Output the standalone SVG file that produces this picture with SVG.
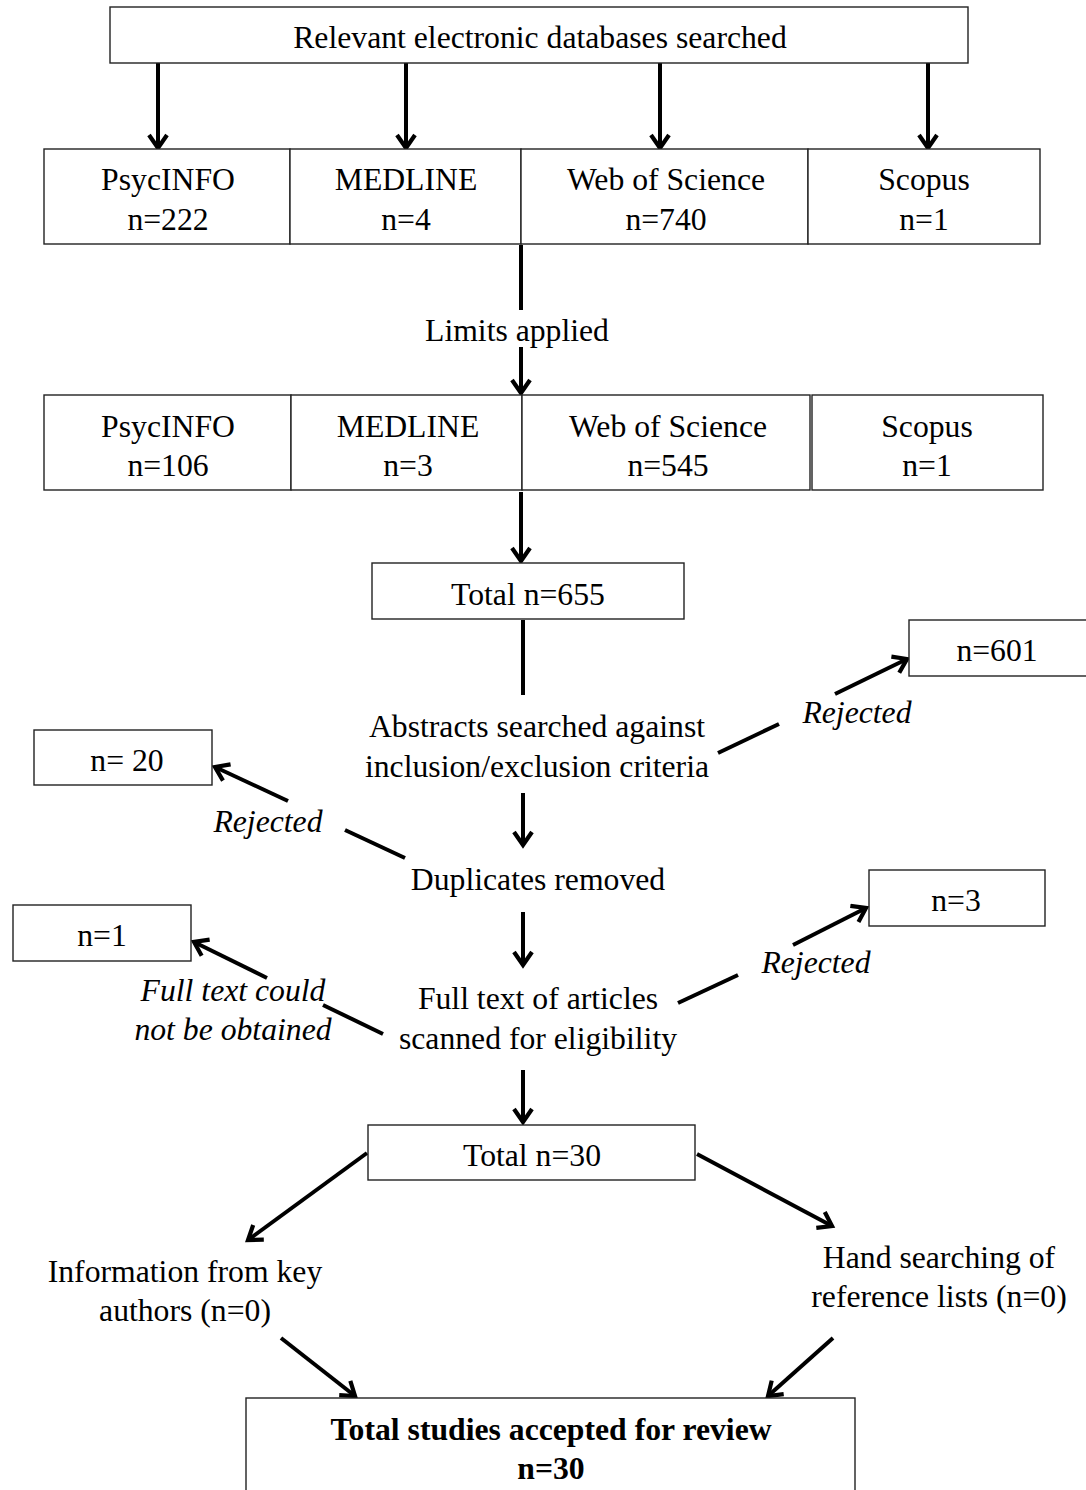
<svg xmlns="http://www.w3.org/2000/svg" width="1086" height="1490" viewBox="0 0 1086 1490">
<defs>
<style>
.box{fill:#fff;stroke:#222;stroke-width:1.4}
.t{font-family:"Liberation Serif","Times New Roman",serif;font-size:31.7px;fill:#000;text-anchor:middle}
.i{font-style:italic}
.b{font-weight:bold}
.c{stroke:#000;stroke-width:4;fill:none}
</style>
<marker id="ah" viewBox="0 0 22 22" refX="17" refY="11" markerWidth="22" markerHeight="22" markerUnits="userSpaceOnUse" orient="auto">
<path d="M4,2 L17,11 L4,20" fill="none" stroke="#000" stroke-width="4.2"/>
</marker>
</defs>
<rect width="1086" height="1490" fill="#fff"/>
<g id="connectors">
<line class="c" x1="158" y1="63" x2="158" y2="148" marker-end="url(#ah)"/>
<line class="c" x1="406" y1="63" x2="406" y2="148" marker-end="url(#ah)"/>
<line class="c" x1="660" y1="63" x2="660" y2="148" marker-end="url(#ah)"/>
<line class="c" x1="928" y1="63" x2="928" y2="148" marker-end="url(#ah)"/>
<line class="c" x1="521" y1="245" x2="521" y2="310"/>
<line class="c" x1="521" y1="347" x2="521" y2="393" marker-end="url(#ah)"/>
<line class="c" x1="521" y1="492" x2="521" y2="561" marker-end="url(#ah)"/>
<line class="c" x1="523" y1="620" x2="523" y2="695"/>
<line class="c" x1="718" y1="753" x2="779" y2="724"/>
<line class="c" x1="835" y1="694" x2="907" y2="659" marker-end="url(#ah)"/>
<line class="c" x1="523" y1="793" x2="523" y2="845" marker-end="url(#ah)"/>
<line class="c" x1="405" y1="858" x2="345" y2="830"/>
<line class="c" x1="288" y1="801" x2="215" y2="767" marker-end="url(#ah)"/>
<line class="c" x1="523" y1="912" x2="523" y2="965" marker-end="url(#ah)"/>
<line class="c" x1="678" y1="1003" x2="738" y2="975"/>
<line class="c" x1="793" y1="945" x2="866" y2="908" marker-end="url(#ah)"/>
<line class="c" x1="383" y1="1034" x2="323" y2="1005"/>
<line class="c" x1="267" y1="978" x2="194" y2="942" marker-end="url(#ah)"/>
<line class="c" x1="523" y1="1070" x2="523" y2="1122" marker-end="url(#ah)"/>
<line class="c" x1="367" y1="1153" x2="248" y2="1240" marker-end="url(#ah)"/>
<line class="c" x1="697" y1="1154" x2="832" y2="1226" marker-end="url(#ah)"/>
<line class="c" x1="281" y1="1338" x2="355" y2="1396" marker-end="url(#ah)"/>
<line class="c" x1="833" y1="1338" x2="768" y2="1396" marker-end="url(#ah)"/>
</g>
<g id="n-top"><rect class="box" x="110" y="7" width="858" height="56"/><text class="t" x="540" y="48">Relevant electronic databases searched</text></g>
<g id="n-psyc1"><rect class="box" x="44" y="149" width="246" height="95"/><text class="t" x="168" y="190">PsycINFO</text><text class="t" x="168" y="230">n=222</text></g>
<g id="n-med1"><rect class="box" x="290" y="149" width="231" height="95"/><text class="t" x="406" y="190">MEDLINE</text><text class="t" x="406" y="230">n=4</text></g>
<g id="n-wos1"><rect class="box" x="521" y="149" width="287" height="95"/><text class="t" x="666" y="190">Web of Science</text><text class="t" x="666" y="230">n=740</text></g>
<g id="n-sco1"><rect class="box" x="808" y="149" width="232" height="95"/><text class="t" x="924" y="190">Scopus</text><text class="t" x="924" y="230">n=1</text></g>
<g id="n-limits"><text class="t" x="517" y="341">Limits applied</text></g>
<g id="n-psyc2"><rect class="box" x="44" y="395" width="247" height="95"/><text class="t" x="168" y="437">PsycINFO</text><text class="t" x="168" y="476">n=106</text></g>
<g id="n-med2"><rect class="box" x="291" y="395" width="231" height="95"/><text class="t" x="408" y="437">MEDLINE</text><text class="t" x="408" y="476">n=3</text></g>
<g id="n-wos2"><rect class="box" x="522" y="395" width="288" height="95"/><text class="t" x="668" y="437">Web of Science</text><text class="t" x="668" y="476">n=545</text></g>
<g id="n-sco2"><rect class="box" x="812" y="395" width="231" height="95"/><text class="t" x="927" y="437">Scopus</text><text class="t" x="927" y="476">n=1</text></g>
<g id="n-total655"><rect class="box" x="372" y="563" width="312" height="56"/><text class="t" x="528" y="605">Total n=655</text></g>
<g id="n-abstracts"><text class="t" x="537" y="737">Abstracts searched against</text><text class="t" x="537" y="777">inclusion/exclusion criteria</text></g>
<g id="n-rej1"><text class="t i" x="857" y="723">Rejected</text></g>
<g id="n-601"><rect class="box" x="909" y="620" width="180" height="56"/><text class="t" x="997" y="661">n=601</text></g>
<g id="n-20"><rect class="box" x="34" y="730" width="178" height="55"/><text class="t" x="127" y="771">n= 20</text></g>
<g id="n-rej2"><text class="t i" x="268" y="832">Rejected</text></g>
<g id="n-dup"><text class="t" x="538" y="890">Duplicates removed</text></g>
<g id="n-3"><rect class="box" x="869" y="870" width="176" height="56"/><text class="t" x="956" y="911">n=3</text></g>
<g id="n-rej3"><text class="t i" x="816" y="973">Rejected</text></g>
<g id="n-1"><rect class="box" x="13" y="905" width="178" height="56"/><text class="t" x="102" y="946">n=1</text></g>
<g id="n-notobt"><text class="t i" x="233" y="1001">Full text could</text><text class="t i" x="233" y="1040">not be obtained</text></g>
<g id="n-fulltext"><text class="t" x="538" y="1009">Full text of articles</text><text class="t" x="538" y="1049">scanned for eligibility</text></g>
<g id="n-total30"><rect class="box" x="368" y="1125" width="327" height="55"/><text class="t" x="532" y="1166">Total n=30</text></g>
<g id="n-info"><text class="t" x="185" y="1282">Information from key</text><text class="t" x="185" y="1321">authors (n=0)</text></g>
<g id="n-hand"><text class="t" x="939" y="1268">Hand searching of</text><text class="t" x="939" y="1307">reference lists (n=0)</text></g>
<g id="n-final"><rect class="box" x="246" y="1398" width="609" height="100"/><text class="t b" x="551" y="1440">Total studies accepted for review</text><text class="t b" x="551" y="1479">n=30</text></g>
</svg>
